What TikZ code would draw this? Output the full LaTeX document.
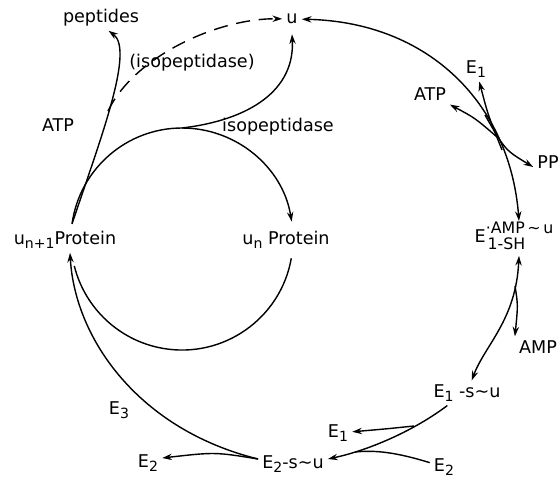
\documentclass[tikz,border=0pt]{standalone}
\usepackage{fontspec}
\setmainfont{DejaVu Sans}
\usetikzlibrary{arrows.meta}
\newcommand{\low}[1]{\raisebox{-0.4ex}{\footnotesize #1}}
\begin{document}
\begin{tikzpicture}[>={Stealth[length=5.5pt,width=3.6pt]},x=0.02cm,y=-0.02cm,line width=0.8pt,every node/.style={inner sep=2pt}]
\useasboundingbox (0,0) rectangle (560,479);
\node (u) at (292,19) {u};
\node (pep) at (101,18) {peptides};
\node (isoA) at (192,63) {(isopeptidase)};
\node (atpA) at (58,125) {ATP};
\node (isoB) at (278,127) {isopeptidase};
\node (e1A) at (476,69) {E\low{1}};
\node (atpB) at (430,94) {ATP};
\node (pp) at (548,162) {PP};
\node[inner sep=0pt,anchor=base west] (e1amp) at (474,242) {E\rlap{\raisebox{0.5em}{\small ·AMP\,\textasciitilde\,u}}\kern1pt\raisebox{-0.45em}{\small 1-SH}};
\node (amp) at (538,347) {AMP};
\node (e1s) at (467,393) {E\low{1} -s\textasciitilde u};
\node (e1B) at (338,433) {E\low{1}};
\node (e2A) at (444,467) {E\low{2}};
\node (e2s) at (293,464) {E\low{2}-s\textasciitilde u};
\node (e2B) at (148,463) {E\low{2}};
\node (e3) at (119,410) {E\low{3}};
\node (un1) at (65,240) {u\low{n+1}Protein};
\node (un) at (286,240) {u\low{n} Protein};
% circle
\coordinate (T) at (182,128);
\coordinate (L) at (72,224);
\coordinate (R) at (291.3,258.3);
\draw (T) arc[start angle=-90,end angle=-172,radius=111];
\draw[->] (T) arc[start angle=-90,end angle=-9,radius=111];
\draw (R) arc[start angle=10,end angle=166,radius=111];
% left branches
\coordinate (D) at (108,111);
\draw[->] (L) .. controls (100,140) and (135,50) .. ([xshift=0.15cm]pep.south);
\draw[->,dash pattern=on 8pt off 5pt] (D) .. controls (135,55) and (220,18) .. (u);
\draw[->] (T) .. controls (250,120) and (295,90) .. ([yshift=-0.12cm]u.south);
% activation
\draw[<->] (u) .. controls (430,22) and (510,105) .. ([xshift=0.9cm]e1amp.north west);
\coordinate (X1) at (497,137);
\coordinate (X2) at (502,150);
\coordinate (X3) at (485,115);
\draw[->] (X1) .. controls (475,118) .. (atpB);
\draw[->] (X2) .. controls (488,115) .. (e1A);
\draw[->] (X3) .. controls (505,150) .. ([yshift=-0.1cm]pp.west);
\draw[<->] ([xshift=0.9cm,yshift=-0.1cm]e1amp.south west) .. controls (516,320) and (485,345) .. (e1s);
\coordinate (A1) at (515,286);
\draw[->] (A1) .. controls (518,305) .. (amp.north west);
% transfer
\draw[->] ([xshift=0.36cm]e1s.south west) .. controls (415,430) and (370,450) .. ([yshift=0.1cm]e2s.east);
\coordinate (B1) at (414,426);
\coordinate (B2) at (355,452);
\draw[->] (B1) .. controls (385,429) .. (e1B);
\draw (e2A) .. controls (395,452) and (375,450) .. (B2);
\draw[->] ([yshift=0.1cm]e2s.west) .. controls (215,452) .. ([yshift=0.1cm]e2B.east);
\draw[->] ([yshift=0.1cm]e2s.west) .. controls (140,430) and (75,340) .. ([xshift=0.1cm]un1.south);
\end{tikzpicture}
\end{document}
